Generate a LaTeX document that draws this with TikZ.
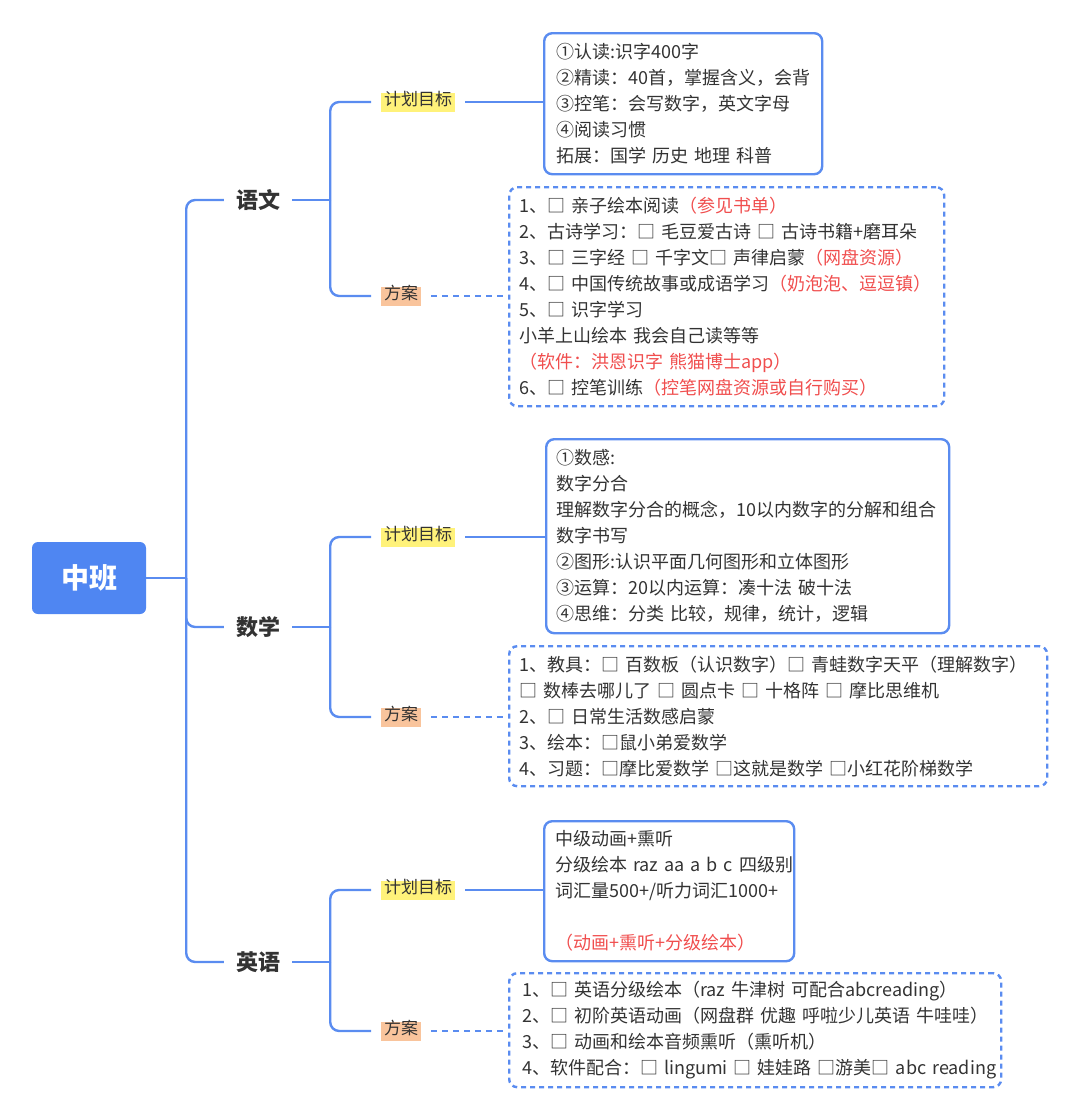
\documentclass[tikz,border=0pt]{standalone}
\usepackage{fontspec}
\setmainfont{Noto Sans CJK SC}[WordSpace=0.85]
\usetikzlibrary{positioning}
\definecolor{mapblue}{HTML}{5A8CF0}
\definecolor{rootblue}{HTML}{4F86F2}
\definecolor{textdark}{HTML}{333333}
\definecolor{notered}{HTML}{F04E4E}
\definecolor{goalfill}{HTML}{FFF27A}
\definecolor{planfill}{HTML}{F9C49C}
\newcommand{\redtext}[1]{\textcolor{notered}{#1}}

\begin{document}
\begin{tikzpicture}[x=1pt,y=-1pt,
    branch/.style={draw=mapblue, line width=2.4pt, rounded corners=9pt},
    dotlink/.style={draw=mapblue, line width=2.4pt, dash pattern=on 6pt off 5pt},
    topic/.style={font=\fontsize{22}{26}\selectfont\bfseries, text=textdark, inner xsep=12pt},
    tag/.style={anchor=west, font=\fontsize{17}{20}\selectfont, text=textdark,
      inner xsep=3pt, inner ysep=4pt, text height=0.9em, text depth=0.2em},
    goalbox/.style={draw=mapblue, line width=2.4pt, rounded corners=8pt, anchor=north west,
      align=left, font=\fontsize{18}{26}\selectfont, text=textdark, inner ysep=6pt},
    planbox/.style={goalbox, dash pattern=on 5pt off 4pt}]
  \useasboundingbox (0,0) rectangle (1080,1120);

  % root
  \node[fill=rootblue, rounded corners=6pt, minimum width=114pt, minimum height=72pt,
    text=white, font=\fontsize{28}{30}\selectfont\bfseries] at (89,578) (root) {中班};

  % topics
  \node[topic] at (258,200) (yw) {语文};
  \node[topic] at (258,627) (sx) {数学};
  \node[topic] at (258,962) (yy) {英语};

  % tags
  \node[tag, fill=goalfill] at (381,102) (yw-goal) {计划目标};
  \node[tag, fill=planfill] at (381,296) (yw-plan) {方案};
  \node[tag, fill=goalfill] at (381,537) (sx-goal) {计划目标};
  \node[tag, fill=planfill] at (381,717) (sx-plan) {方案};
  \node[tag, fill=goalfill] at (381,890) (yy-goal) {计划目标};
  \node[tag, fill=planfill] at (381,1031) (yy-plan) {方案};

  % boxes
  \node[goalbox, inner xsep=12pt, text width=254pt, minimum height=141pt] at (543,32) (yw-gbox) {%
    ①认读:识字400字\\
    ②精读：40首，掌握含义，会背\\
    ③控笔：会写数字，英文字母\\
    ④阅读习惯\\
    拓展：国学 历史 地理 科普};
  \node[planbox, inner xsep=10pt, text width=415pt, minimum height=219pt] at (508,186) (yw-pbox) {%
    1、□ 亲子绘本阅读\redtext{（参见书单）}\\
    2、古诗学习：□ 毛豆爱古诗 □ 古诗书籍+磨耳朵\\
    3、□ 三字经 □ 千字文□ 声律启蒙\redtext{（网盘资源）}\\
    4、□ 中国传统故事或成语学习\redtext{（奶泡泡、逗逗镇）}\\
    5、□ 识字学习\\
    小羊上山绘本 我会自己读等等\\
    \redtext{（软件：洪恩识字 熊猫博士app）}\\
    6、□ 控笔训练\redtext{（控笔网盘资源或自行购买）}};
  \node[goalbox, inner xsep=10pt, text width=383pt, minimum height=194pt] at (545,438) (sx-gbox) {%
    ①数感:\\
    数字分合\\
    理解数字分合的概念，10以内数字的分解和组合\\
    数字书写\\
    ②图形:认识平面几何图形和立体图形\\
    ③运算：20以内运算：凑十法 破十法\\
    ④思维：分类 比较，规律，统计，逻辑};
  \node[planbox, inner xsep=10pt, text width=518pt, minimum height=140pt] at (508,645) (sx-pbox) {%
    1、教具：□ 百数板（认识数字）□ 青蛙数字天平（理解数字）\\
    □ 数棒去哪儿了 □ 圆点卡 □ 十格阵 □ 摩比思维机\\
    2、□ 日常生活数感启蒙\\
    3、绘本：□鼠小弟爱数学\\
    4、习题：□摩比爱数学 □这就是数学 □小红花阶梯数学};
  \node[goalbox, inner xsep=11pt, text width=228pt, minimum height=140pt] at (543,820) (yy-gbox) {%
    中级动画+熏听\\
    \mbox{分级绘本 raz aa a b c 四级别}\\
    词汇量500+/听力词汇1000+\\
    \mbox{}\\
    \redtext{（动画+熏听+分级绘本）}};
  \node[planbox, inner xsep=13pt, text width=466pt, minimum height=114pt] at (508,972) (yy-pbox) {%
    \mbox{1、□ 英语分级绘本（raz 牛津树 可配合abcreading）}\\
    \mbox{2、□ 初阶英语动画（网盘群 优趣 呼啦少儿英语 牛哇哇）}\\
    \mbox{3、□ 动画和绘本音频熏听（熏听机）}\\
    \mbox{4、软件配合：□ lingumi □ 娃娃路 □游美□ abc reading}};

  % root to topics
  \coordinate (root-j) at ([xshift=40pt]root.east);
  \draw[branch] (root.east) -- (root-j);
  \draw[branch] (root-j) |- (yw.west);
  \draw[branch] (root-j) |- (sx.west);
  \draw[branch] (root-j) |- (yy.west);

  % topics to tags
  \foreach \t in {yw,sx,yy} {
    \coordinate (\t-j) at ([xshift=38pt]\t.east);
    \draw[branch] (\t.east) -- (\t-j);
    \draw[branch, shorten >=10pt] (\t-j) |- (\t-goal.west);
    \draw[branch, shorten >=10pt] (\t-j) |- (\t-plan.west);
    \draw[branch, shorten <=10pt] (\t-goal.east) -- (\t-goal.east -| \t-gbox.west);
    \draw[dotlink, shorten <=10pt] (\t-plan.east) -- (\t-plan.east -| \t-pbox.west);
  }
\end{tikzpicture}
\end{document}
